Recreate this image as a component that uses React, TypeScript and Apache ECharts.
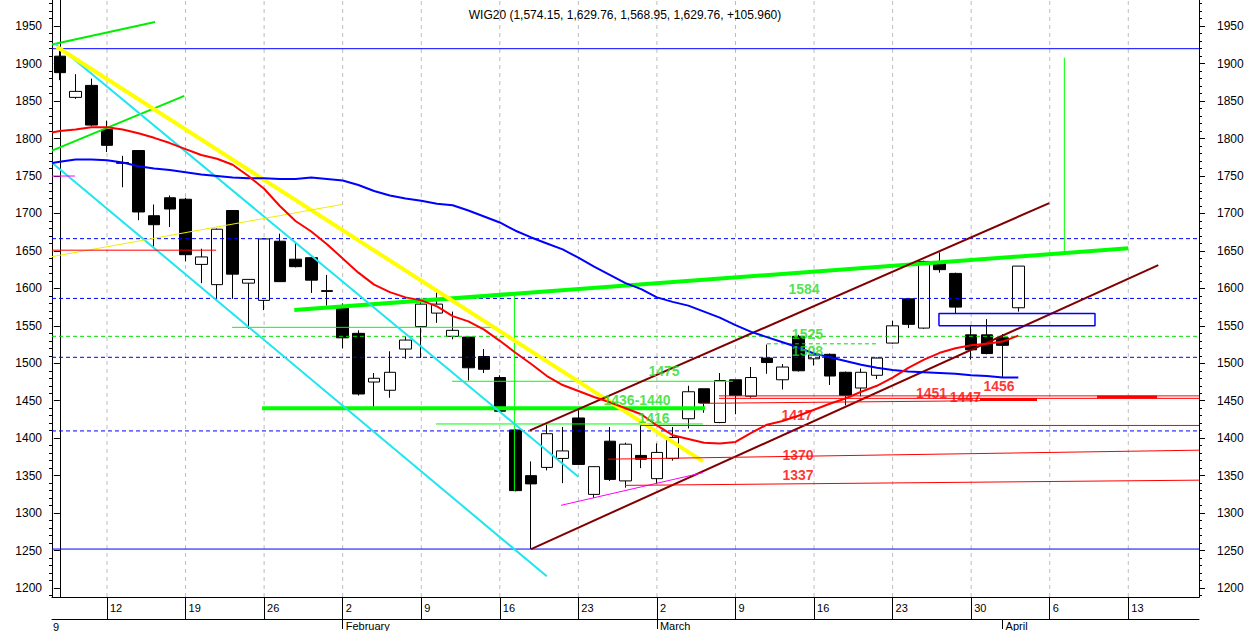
import React, { useEffect, useRef } from "react";
import * as echarts from "echarts";

const FONT = 'Arial, "Liberation Sans", Helvetica, sans-serif';

// Trading days shown on the category axis (weekends skipped)
const dates = [
  "2009-01-07", "2009-01-08", "2009-01-09",
  "2009-01-12", "2009-01-13", "2009-01-14", "2009-01-15", "2009-01-16",
  "2009-01-19", "2009-01-20", "2009-01-21", "2009-01-22", "2009-01-23",
  "2009-01-26", "2009-01-27", "2009-01-28", "2009-01-29", "2009-01-30",
  "2009-02-02", "2009-02-03", "2009-02-04", "2009-02-05", "2009-02-06",
  "2009-02-09", "2009-02-10", "2009-02-11", "2009-02-12", "2009-02-13",
  "2009-02-16", "2009-02-17", "2009-02-18", "2009-02-19", "2009-02-20",
  "2009-02-23", "2009-02-24", "2009-02-25", "2009-02-26", "2009-02-27",
  "2009-03-02", "2009-03-03", "2009-03-04", "2009-03-05", "2009-03-06",
  "2009-03-09", "2009-03-10", "2009-03-11", "2009-03-12", "2009-03-13",
  "2009-03-16", "2009-03-17", "2009-03-18", "2009-03-19", "2009-03-20",
  "2009-03-23", "2009-03-24", "2009-03-25", "2009-03-26", "2009-03-27",
  "2009-03-30", "2009-03-31", "2009-04-01", "2009-04-02", "2009-04-03",
  "2009-04-06", "2009-04-07", "2009-04-08", "2009-04-09", "2009-04-10",
  "2009-04-13", "2009-04-14", "2009-04-15", "2009-04-16", "2009-04-17",
];

const weekStarts = [
  "2009-01-12", "2009-01-19", "2009-01-26", "2009-02-02", "2009-02-09",
  "2009-02-16", "2009-02-23", "2009-03-02", "2009-03-09", "2009-03-16",
  "2009-03-23", "2009-03-30", "2009-04-06", "2009-04-13",
];
const monthStarts = ["2009-02-02", "2009-03-02", "2009-04-01"];
const monthNames = ["February", "March", "April"];

// OHLC
const opens = [1910, 1855, 1871, 1812, 1768, 1784, 1697, 1721, 1719, 1632, 1605, 1704, 1607, 1584, 1663, 1639, 1641, 1597, 1574, 1540, 1475, 1464, 1519, 1549, 1567, 1536, 1535, 1509, 1481, 1411, 1350, 1361, 1373, 1427, 1325, 1396, 1343, 1377, 1346, 1373, 1426, 1466, 1421, 1478, 1456, 1507, 1478, 1536, 1506, 1512, 1488, 1467, 1484, 1527, 1586, 1547, 1634, 1620, 1538, 1538, 1534, 1574.15];
const highs = [1917, 1886, 1880, 1824, 1777, 1784, 1712, 1724, 1721, 1653, 1680, 1704, 1612, 1667, 1673, 1661, 1642, 1618, 1580, 1544, 1487, 1516, 1536, 1582, 1595, 1569, 1536, 1519, 1484, 1412, 1369, 1418, 1415, 1439, 1362, 1415, 1394, 1417, 1393, 1415, 1470, 1466, 1487, 1478, 1495, 1525, 1499, 1538, 1515, 1513, 1489, 1493, 1508, 1557, 1587, 1637, 1648, 1621, 1550, 1559, 1539, 1629.76];
const lows = [1878, 1853, 1817, 1782, 1735, 1691, 1656, 1682, 1636, 1607, 1586, 1586, 1546, 1571, 1609, 1628, 1594, 1577, 1520, 1457, 1442, 1454, 1506, 1507, 1554, 1532, 1477, 1487, 1435, 1329, 1252, 1357, 1340, 1365, 1320, 1343, 1334, 1360, 1339, 1370, 1413, 1434, 1420, 1432, 1454, 1486, 1465, 1489, 1497, 1471, 1444, 1456, 1479, 1526, 1547, 1546, 1621, 1567, 1505, 1512, 1481, 1568.95];
const closes = [1888, 1863, 1818, 1791, 1767, 1702, 1685, 1706, 1645, 1642, 1679, 1619, 1612, 1666, 1609, 1629, 1611, 1596, 1534, 1459, 1480, 1488, 1531, 1579, 1579, 1544, 1494, 1492, 1436, 1330, 1339, 1406, 1383, 1365, 1362, 1345, 1392, 1372, 1381, 1401, 1462, 1447, 1477, 1457, 1481, 1501, 1495, 1490, 1511, 1483, 1457, 1488, 1507, 1550, 1552, 1636, 1625, 1575, 1518, 1513, 1524, 1629.76];

// Moving averages (value at left plot edge, then one per candle)
const redMAStart = 1808;
const redMA = [1810, 1812, 1815, 1815, 1812, 1807, 1801, 1794, 1786, 1778, 1773, 1765, 1750, 1733, 1710, 1690, 1676, 1659, 1640, 1621, 1605, 1595, 1588, 1584, 1576, 1563, 1556, 1545, 1530, 1514, 1499, 1483, 1471, 1463, 1455, 1448, 1440, 1432, 1417, 1404, 1399, 1394, 1393, 1395, 1407, 1418, 1423, 1430, 1438, 1446, 1453, 1462, 1470, 1481, 1494, 1505, 1514, 1520, 1524, 1526, 1529, 1537];
const blueMAStart = 1767.5;
const blueMA = [1769, 1772, 1772, 1771, 1768, 1763, 1760, 1758, 1755, 1752, 1750, 1748, 1747, 1747, 1746, 1746, 1748, 1746, 1744, 1738, 1730, 1724, 1720, 1717, 1713, 1711, 1704, 1696, 1688, 1677, 1668, 1660, 1652, 1641, 1629, 1618, 1607, 1599, 1588, 1582, 1577, 1569, 1561, 1551, 1542, 1535, 1528, 1521, 1513, 1508, 1503, 1498, 1494, 1491, 1489, 1488, 1487, 1486, 1484, 1483, 1481, 1481];

// Drawn lines: [x1, y1, x2, y2] with x in candle index units
const blueSolidLevels = [1920, 1252];
const blueDashedLevels = [1666.4, 1586.6, 1508, 1409.7];
const greenDashedLines = [[-0.5, 1536, 72.5, 1536], [45.0, 1526, 52.0, 1526]];
const greenThinLines = [[10.96, 1548, 27.82, 1548], [24.96, 1476, 42.84, 1476], [23.94, 1419, 40.93, 1419], [28.93, 1594.5, 28.93, 1330], [63.93, 1908, 63.93, 1648.5]];
const greenMidLines = [[-0.5, 1925.7, 6.06, 1955.7], [-0.5, 1784, 7.92, 1857]];
const greenThickLines = [[14.92, 1571, 68.0, 1653.5], [12.87, 1440, 41.06, 1440]];
const cyanLines = [[-0.31, 1927, 33.0, 1348.5], [-0.48, 1767.5, 30.99, 1215.6]];
const yellowThickLines = [[-0.2, 1922.6, 40.93, 1369]];
const yellowThinLines = [[-0.5, 1642.4, 17.94, 1712]];
const brownLines = [[29.92, 1410.5, 62.97, 1713.8], [29.99, 1252, 69.91, 1631]];
const magentaLines = [[31.9, 1310.4, 40.93, 1354], [-0.5, 1750, 0.96, 1750]];
const redThinLines = [[-0.5, 1651, 9.94, 1651], [36.92, 1417, 72.5, 1417], [34.89, 1372, 72.5, 1384], [35.97, 1337, 72.5, 1344], [41.95, 1456.5, 72.5, 1456.5], [41.95, 1453.2, 72.5, 1453.2], [40.74, 1446.5, 58.56, 1450]];
const redThickLines = [[58.56, 1451.8, 62.19, 1451.8], [66.01, 1455, 69.83, 1455]];
const blueBox = [55.95, 1550, 65.88, 1566.6];

// Text annotations [text, x (index units), y]
const greenLabels: [string, number, number][] = [["1584", 47.36, 1599], ["1525", 47.58, 1538.7], ["1508", 47.58, 1517], ["1475", 38.45, 1490], ["1436-1440", 36.73, 1450.4], ["1416", 37.81, 1427]];
const redLabels: [string, number, number][] = [["1417", 46.92, 1431.4], ["1370", 46.98, 1378], ["1337", 46.98, 1350.7], ["1451", 55.48, 1460.6], ["1447", 57.63, 1455], ["1456", 59.77, 1469.5]];

const yMajor = [1200, 1250, 1300, 1350, 1400, 1450, 1500, 1550, 1600, 1650, 1700, 1750, 1800, 1850, 1900, 1950];
const yMinor: number[] = [];
for (let v = 1190; v <= 1980; v += 10) if (v % 50 !== 0) yMinor.push(v);

const Y_MIN = 1188;
const Y_MAX = 1985;
const X_MIN = -0.5;
const X_MAX = 72.5;

function segSeries(lines: number[][], color: string, width: number, type: any = "solid", z = 3) {
  return lines.map((l) => ({
    type: "line",
    xAxisIndex: 2,
    yAxisIndex: 0,
    data: [[l[0], l[1]], [l[2], l[3]]],
    symbol: "none",
    silent: true,
    lineStyle: { color, width, type },
    z,
  }));
}

function yAxisCfg(position: string, values: number[], len: number, labels: boolean, margin: number) {
  return {
    type: "value",
    gridIndex: 0,
    position,
    min: Y_MIN,
    max: Y_MAX,
    splitLine: { show: false },
    axisLine: { show: true, lineStyle: { color: "#000", width: 1 } },
    axisTick: { show: true, length: len, customValues: values, lineStyle: { color: "#000" } },
    axisLabel: labels
      ? {
          show: true,
          customValues: values,
          margin,
          color: "#000",
          fontSize: 12,
          fontFamily: FONT,
          formatter: (v: number) => String(Math.round(v)),
        }
      : { show: false },
  };
}

export default function App() {
  const ref = useRef<HTMLDivElement>(null);
  useEffect(() => {
    if (!ref.current) return;
    const chart = echarts.init(ref.current, null, { renderer: "svg" });
    const candleData = opens.map((o, i) => [o, closes[i], lows[i], highs[i]]);
    const isWeek = (i: number, v: string) => weekStarts.indexOf(v) >= 0;
    const isMonth = (i: number, v: string) => monthStarts.indexOf(v) >= 0;

    const series: any[] = [];
    const gridLines = weekStarts.map((d) => {
      const i = dates.indexOf(d);
      return [i, Y_MIN, i, Y_MAX];
    });
    series.push(...segSeries(gridLines, "#bdbdbd", 1, [4, 4], 1));
    series.push({
      type: "candlestick",
      xAxisIndex: 0,
      yAxisIndex: 0,
      data: candleData,
      barWidth: 12,
      z: 2,
      itemStyle: {
        color: "#ffffff",
        color0: "#000000",
        borderColor: "#000000",
        borderColor0: "#000000",
        borderColorDoji: "#000000",
        borderWidth: 1,
      },
    });
    const full = (lv: number) => [X_MIN, lv, X_MAX, lv];
    series.push(...segSeries(blueSolidLevels.map(full), "#0000ff", 1));
    series.push(...segSeries(blueDashedLevels.map(full), "#0000ff", 1, [4, 3]));
    series.push(...segSeries(greenDashedLines, "#00dd00", 1, [4, 3]));
    series.push(...segSeries(greenThinLines, "#00ff00", 1));
    series.push(...segSeries(greenMidLines, "#00ee00", 2));
    series.push(...segSeries(greenThickLines, "#00ff00", 4));
    series.push(...segSeries(cyanLines, "#1ee6ee", 2));
    series.push(...segSeries(yellowThickLines, "#ffff00", 4));
    series.push(...segSeries(yellowThinLines, "#eeee00", 1));
    series.push(...segSeries(brownLines, "#800000", 2));
    series.push(...segSeries(magentaLines, "#ff00ff", 1));
    series.push(...segSeries(redThinLines, "#ff0000", 1));
    series.push(...segSeries(redThickLines, "#ff0000", 3));
    series.push({
      type: "line",
      xAxisIndex: 2,
      yAxisIndex: 0,
      data: [
        [blueBox[0], blueBox[1]], [blueBox[2], blueBox[1]], [blueBox[2], blueBox[3]],
        [blueBox[0], blueBox[3]], [blueBox[0], blueBox[1]],
      ],
      symbol: "none",
      silent: true,
      lineStyle: { color: "#0000ff", width: 1.5 },
      z: 3,
    });
    series.push({
      type: "line",
      xAxisIndex: 2,
      yAxisIndex: 0,
      data: [[X_MIN, blueMAStart], ...blueMA.map((v, i) => [i, v])],
      symbol: "none",
      silent: true,
      lineStyle: { color: "#0000ff", width: 2 },
      z: 4,
    });
    series.push({
      type: "line",
      xAxisIndex: 2,
      yAxisIndex: 0,
      data: [[X_MIN, redMAStart], ...redMA.map((v, i) => [i, v])],
      symbol: "none",
      silent: true,
      lineStyle: { color: "#ff0000", width: 2 },
      z: 4,
    });
    const labelSeries = (items: [string, number, number][], color: string) => ({
      type: "scatter",
      xAxisIndex: 2,
      yAxisIndex: 0,
      symbolSize: 1,
      silent: true,
      z: 6,
      itemStyle: { color: "rgba(0,0,0,0)" },
      data: items.map((t) => ({ name: t[0], value: [t[1], t[2]] })),
      label: {
        show: true,
        position: "inside",
        formatter: (p: any) => p.name,
        color,
        fontSize: 14,
        fontWeight: "bold",
        fontFamily: FONT,
      },
    });
    series.push(labelSeries(greenLabels, "#22dd22"));
    series.push(labelSeries(redLabels, "#ff0000"));

    chart.setOption({
      animation: false,
      backgroundColor: "#ffffff",
      title: {
        text: "WIG20 (1,574.15, 1,629.76, 1,568.95, 1,629.76, +105.960)",
        left: "center",
        top: 4,
        textStyle: { fontSize: 12, fontWeight: "normal", color: "#000", fontFamily: FONT },
      },
      grid: { left: 52, right: 51, top: 0, bottom: 32 },
      xAxis: [
        {
          type: "category",
          gridIndex: 0,
          data: dates,
          boundaryGap: true,
          position: "bottom",
          axisLine: { show: true, lineStyle: { color: "#000" } },
          axisTick: { show: true, alignWithLabel: true, interval: isWeek, length: 22, lineStyle: { color: "#000" } },
          axisLabel: {
            show: true,
            interval: isWeek,
            formatter: (v: string) => String(Number(v.slice(8))),
            align: "left",
            padding: [0, 0, 0, 3],
            margin: 5,
            color: "#000",
            fontSize: 11,
            fontFamily: FONT,
          },
          splitLine: { show: false },
        },
        {
          type: "category",
          gridIndex: 0,
          data: dates,
          boundaryGap: true,
          position: "bottom",
          offset: 22,
          axisLine: { show: true, lineStyle: { color: "#000" } },
          axisTick: { show: true, alignWithLabel: true, interval: isMonth, length: 10, lineStyle: { color: "#000" } },
          axisLabel: {
            show: true,
            interval: isMonth,
            formatter: (v: string) => monthNames[monthStarts.indexOf(v)] || "",
            align: "left",
            padding: [0, 0, 0, 3],
            margin: 1,
            color: "#000",
            fontSize: 11,
            fontFamily: FONT,
          },
          splitLine: { show: false },
        },
        { type: "value", gridIndex: 0, min: X_MIN, max: X_MAX, show: false },
      ],
      yAxis: [
        yAxisCfg("left", yMajor, 6, true, 10),
        yAxisCfg("left", yMinor, 3, false, 0),
        yAxisCfg("right", yMajor, 6, true, 18),
        yAxisCfg("right", yMinor, 3, false, 0),
      ],
      graphic: [
        { type: "text", left: 53, top: 621, style: { text: "9", font: "11px " + FONT, fill: "#000" } },
      ],
      series,
    });
    return () => chart.dispose();
  }, []);
  return <div ref={ref} style={{ position: "absolute", left: 0, top: 0, width: 1250, height: 631 }} />;
}
